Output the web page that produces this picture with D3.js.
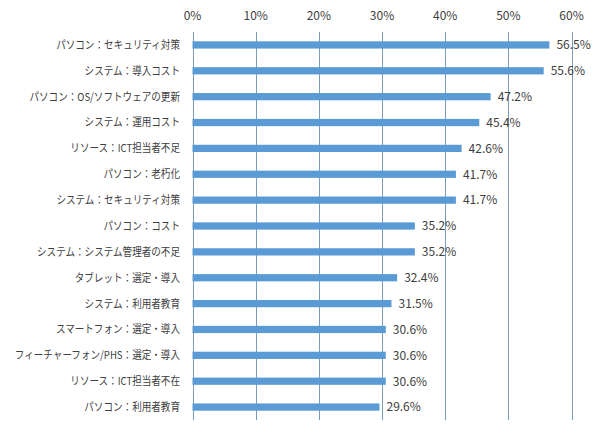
<!DOCTYPE html>
<html><head><meta charset="utf-8">
<script src="https://cdn.jsdelivr.net/npm/d3@7"></script>
<style>body{margin:0;background:#fff}svg{display:block}text{font-family:"Noto Sans CJK JP","Noto Sans",sans-serif;}</style>
</head><body><svg id="c" width="600" height="436"></svg>
<script>
const categories = ["パソコン：セキュリティ対策","システム：導入コスト","パソコン：OS/ソフトウェアの更新","システム：運用コスト","リソース：ICT担当者不足","パソコン：老朽化","システム：セキュリティ対策","パソコン：コスト","システム：システム管理者の不足","タブレット：選定・導入","システム：利用者教育","スマートフォン：選定・導入","フィーチャーフォン/PHS：選定・導入","リソース：ICT担当者不在","パソコン：利用者教育"];
const values = [56.5,55.6,47.2,45.4,42.6,41.7,41.7,35.2,35.2,32.4,31.5,30.6,30.6,30.6,29.6];
const ticks = [0,10,20,30,40,50,60];

const svg = d3.select("#c");
const x = d3.scaleLinear().domain([0,60]).range([192.5,571.5]);
const y = d3.scaleBand().domain(categories).range([32,420]).paddingInner(0.72).paddingOuter(0.36);

// grid
svg.append("g").selectAll("line").data(ticks).join("line")
  .attr("x1",d=>Math.round(x(d))+0.5).attr("x2",d=>Math.round(x(d))+0.5)
  .attr("y1",32).attr("y2",420).attr("stroke","#7a9cbf").attr("stroke-width",1);

// tick labels
svg.append("g").selectAll("text").data(ticks).join("text")
  .attr("x",d=>x(d)).attr("y",20).attr("text-anchor","middle")
  .attr("font-size",12).attr("fill","#404040").text(d=>d+"%");

// bars
svg.append("g").selectAll("rect").data(values).join("rect")
  .attr("x",x(0)).attr("y",(d,i)=>y(categories[i]))
  .attr("width",d=>x(d)-x(0)).attr("height",y.bandwidth()).attr("fill","#5b9bd5");

// value labels
svg.append("g").selectAll("text").data(values).join("text")
  .attr("x",d=>x(d)+7).attr("y",(d,i)=>y(categories[i])+y.bandwidth()/2).attr("dy","0.36em")
  .attr("font-size",12).attr("fill","#404040").text(d=>d.toFixed(1)+"%");

// category labels (condensed to match the narrow original font)
svg.append("g").selectAll("text").data(categories).join("text")
  .attr("x",180).attr("y",d=>y(d)+y.bandwidth()/2).attr("dy","0.36em").attr("text-anchor","end")
  .attr("font-size",11).attr("fill","#404040").text(d=>d)
  .each(function(){
    const len = this.getComputedTextLength();
    d3.select(this).attr("textLength",len*0.87).attr("lengthAdjust","spacingAndGlyphs");
  });
</script></body></html>
